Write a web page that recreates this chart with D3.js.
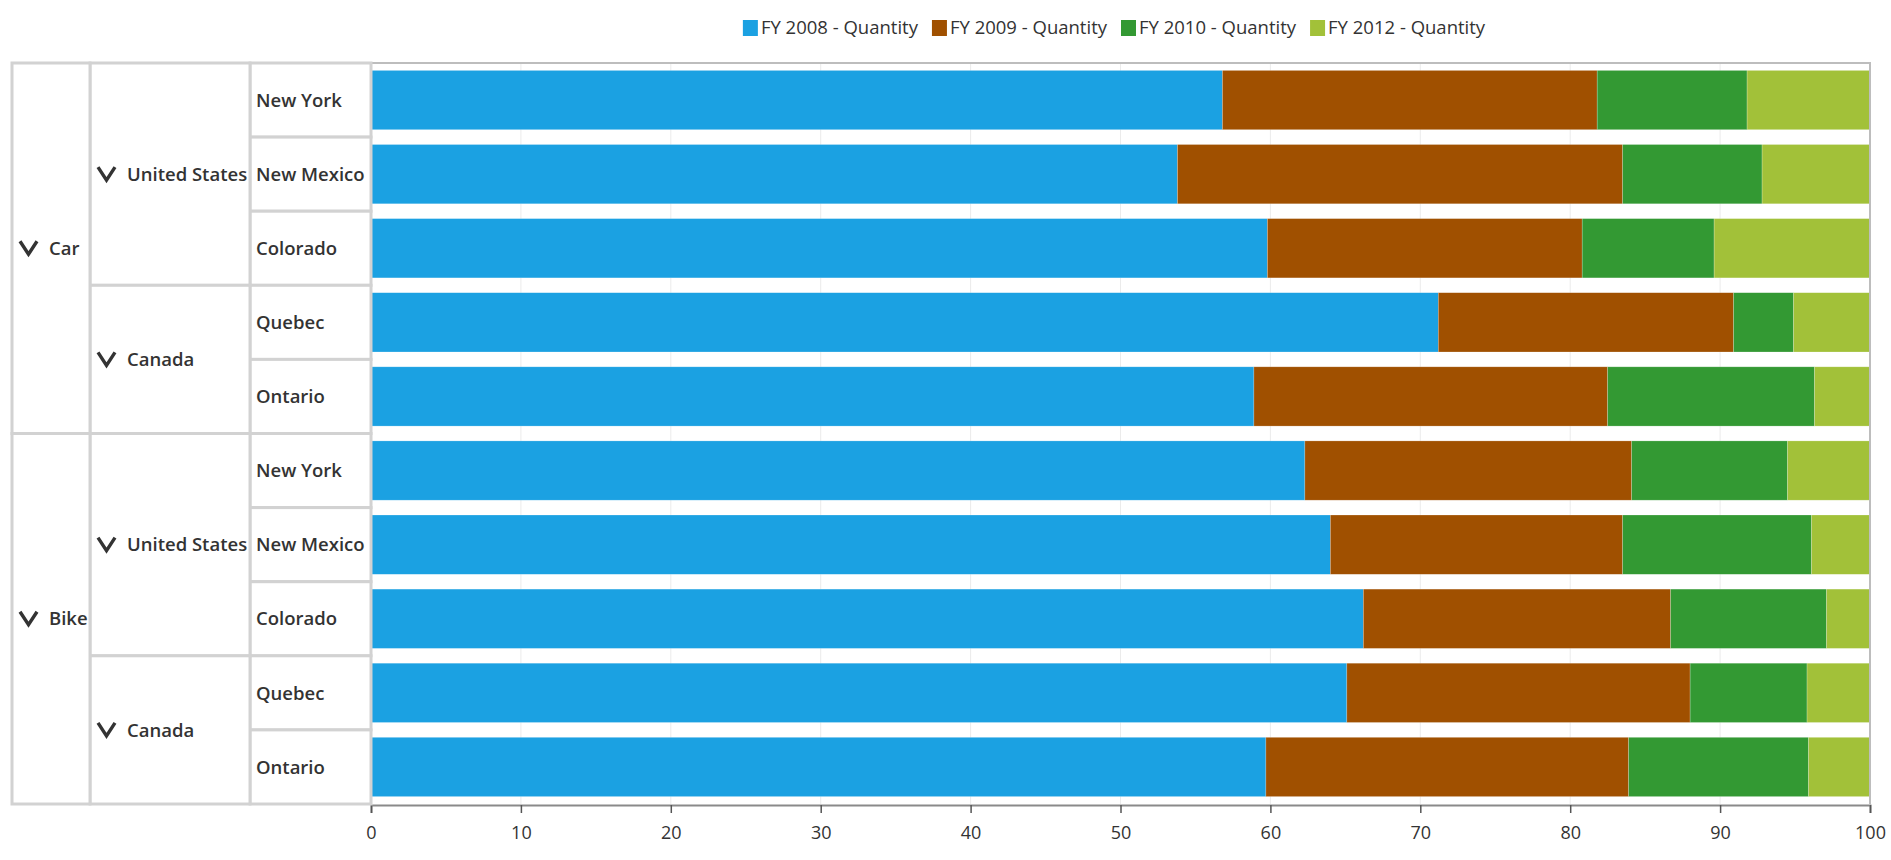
<!DOCTYPE html>
<html>
<head>
<meta charset="utf-8">
<script src="https://cdn.jsdelivr.net/npm/d3@7"></script>
<style>
  html, body { margin: 0; padding: 0; background: #fff; }
  svg { display: block; font-family: "Open Sans", "Noto Sans", sans-serif; }
</style>
</head>
<body>
<svg id="chart" width="1891" height="860"></svg>
<script>
// ---------- data ----------
const seriesNames = ["FY 2008 - Quantity", "FY 2009 - Quantity", "FY 2010 - Quantity", "FY 2012 - Quantity"];
const seriesColors = ["#1ba1e2", "#a05000", "#339933", "#a2c139"];
const products  = ["Car", "Car", "Car", "Car", "Car", "Bike", "Bike", "Bike", "Bike", "Bike"];
const countries = ["United States", "United States", "United States", "Canada", "Canada",
                   "United States", "United States", "United States", "Canada", "Canada"];
const states    = ["New York", "New Mexico", "Colorado", "Quebec", "Ontario",
                   "New York", "New Mexico", "Colorado", "Quebec", "Ontario"];
const fy2008 = [56.8, 53.8, 59.8, 71.2, 58.9, 62.3, 64.0, 66.2, 65.1, 59.7];
const fy2009 = [25.0, 29.7, 21.0, 19.7, 23.6, 21.8, 19.5, 20.5, 22.9, 24.2];
const fy2010 = [10.0,  9.3,  8.8,  4.0, 13.8, 10.4, 12.6, 10.4,  7.8, 12.0];
const fy2012 = [ 8.2,  7.2, 10.4,  5.1,  3.7,  5.5,  3.9,  2.9,  4.2,  4.1];
const xTicks = [0, 10, 20, 30, 40, 50, 60, 70, 80, 90, 100];

// ---------- layout ----------
const svg = d3.select("#chart");
const plotL = 371, plotR = 1870, plotT = 63, plotB = 804;
const colX = [12, 90, 250, 371];   // label grid columns
const cellStroke = "#d2d2d2";
const textColor = "#333333";

const rowIds = states.map((s, i) => i);
const rows = rowIds.map(i => ({
  id: i, product: products[i], country: countries[i], state: states[i],
  s0: fy2008[i], s1: fy2009[i], s2: fy2010[i], s3: fy2012[i]
}));

const x = d3.scaleLinear().domain([0, 100]).range([plotL, plotR]);
const yBand = d3.scaleBand().domain(rowIds).range([plotT, plotB]).paddingInner(0).paddingOuter(0);
const yBar = d3.scaleBand().domain(rowIds).range([plotT, plotB]).paddingInner(0.2).paddingOuter(0.1);

const stack = d3.stack().keys(["s0", "s1", "s2", "s3"]).offset(d3.stackOffsetExpand);
const stacked = stack(rows);

// gridlines
svg.append("g").selectAll("line").data(xTicks.slice(1, -1)).join("line")
  .attr("x1", d => x(d)).attr("x2", d => x(d))
  .attr("y1", plotT).attr("y2", plotB)
  .attr("stroke", "#ebebeb").attr("stroke-width", 1);

// bars
svg.append("g").selectAll("g").data(stacked).join("g")
  .attr("fill", (d, i) => seriesColors[i])
  .selectAll("rect").data(d => d).join("rect")
  .attr("x", d => x(d[0] * 100))
  .attr("width", d => x(d[1] * 100) - x(d[0] * 100))
  .attr("y", d => yBar(d.data.id))
  .attr("height", yBar.bandwidth())
  .attr("stroke", "#ffffff").attr("stroke-opacity", 0.35).attr("stroke-width", 0.6);

// plot border (top + right)
svg.append("path")
  .attr("d", `M${plotL},${plotT}H${plotR}V${plotB}`)
  .attr("fill", "none").attr("stroke", "#bdbdbd").attr("stroke-width", 2);

// x axis
const axisG = svg.append("g").attr("transform", `translate(0,${plotB + 1})`)
  .call(d3.axisBottom(x).tickValues(xTicks).tickSize(8).tickPadding(13).tickFormat(d3.format("d")));
axisG.select(".domain").attr("stroke", "#8a8a8a").attr("stroke-width", 2);
axisG.selectAll(".tick line").attr("stroke", "#555").attr("stroke-width", 1.5);
axisG.selectAll(".tick text").attr("fill", textColor).style("font-size", "18px")
  .style("font-family", "'Open Sans', sans-serif");

// ---------- hierarchical row labels ----------
function groupsOf(keyFn) {
  const out = [];
  rows.forEach((r, i) => {
    const k = keyFn(r);
    if (out.length && out[out.length - 1].key === k) out[out.length - 1].end = i;
    else out.push({ key: k, start: i, end: i, label: r });
  });
  return out;
}
const productGroups = groupsOf(r => r.product);
const countryGroups = groupsOf(r => r.product + "|" + r.country);
const stateGroups = groupsOf(r => r.id);

const labelG = svg.append("g");
function drawLevel(groups, level, textFn, chevron) {
  const x0 = colX[level], x1 = colX[level + 1];
  const g = labelG.append("g");
  groups.forEach(grp => {
    const top = yBand(grp.start), bot = yBand(grp.end) + yBand.bandwidth();
    g.append("rect").attr("x", x0).attr("y", top).attr("width", x1 - x0).attr("height", bot - top)
      .attr("fill", "#fff").attr("stroke", cellStroke).attr("stroke-width", 3);
    const cy = (top + bot) / 2;
    let tx = x0 + 6;
    if (chevron) {
      const cx = x0 + 8;
      g.append("path")
        .attr("d", `M${cx},${cy - 7}L${cx + 8.5},${cy + 6}L${cx + 17},${cy - 7}`)
        .attr("fill", "none").attr("stroke", "#333").attr("stroke-width", 3.4)
        .attr("stroke-linejoin", "miter").attr("stroke-linecap", "butt");
      tx = x0 + 37;
    }
    g.append("text").attr("x", tx).attr("y", cy).attr("dy", "0.36em")
      .attr("fill", textColor).style("font-size", "18.5px").style("font-weight", 600)
      .text(textFn(grp.label));
  });
}
drawLevel(stateGroups, 2, r => r.state, false);
drawLevel(countryGroups, 1, r => r.country, true);
drawLevel(productGroups, 0, r => r.product, true);

// ---------- legend ----------
const legendG = svg.append("g");
const legendY = 28;
let lx = 0;
const items = [];
seriesNames.forEach((name, i) => {
  const it = legendG.append("g");
  it.append("rect").attr("x", 0).attr("y", legendY - 8).attr("width", 15).attr("height", 16)
    .attr("fill", seriesColors[i]);
  const t = it.append("text").attr("x", 18).attr("y", legendY).attr("dy", "0.35em")
    .attr("fill", textColor).style("font-size", "18.5px").text(name);
  const w = 18 + t.node().getComputedTextLength();
  items.push({ it, lx });
  lx += w + 14;
});
const totalW = lx - 14;
const startX = 1114 - totalW / 2;
items.forEach(d => d.it.attr("transform", `translate(${startX + d.lx},0)`));
</script>
</body>
</html>
